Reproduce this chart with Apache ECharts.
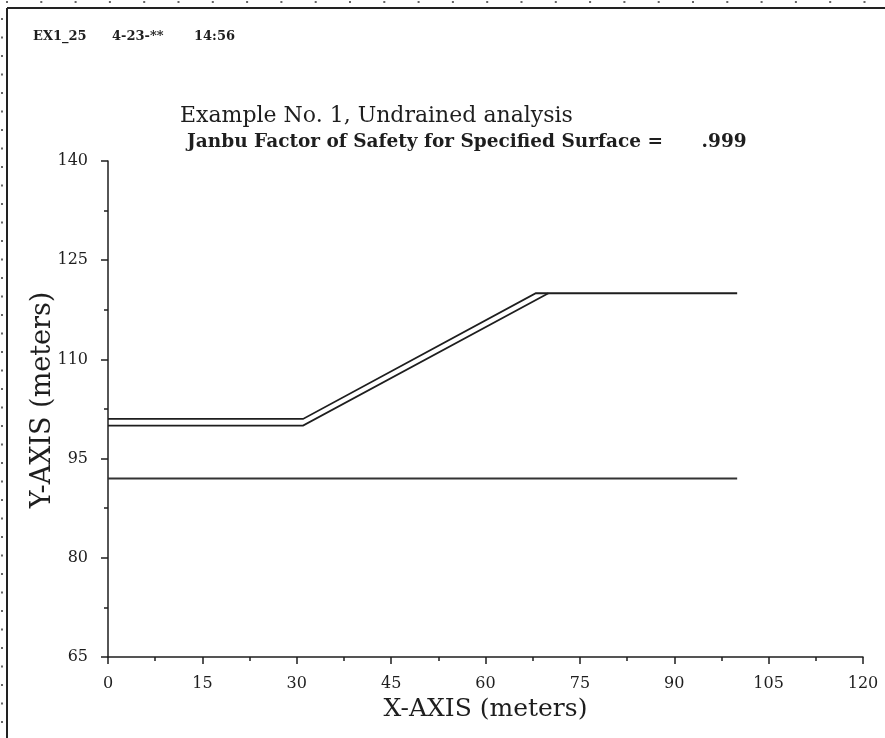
<!DOCTYPE html>
<html>
<head>
<meta charset="utf-8">
<script src="https://cdn.jsdelivr.net/npm/echarts@6/dist/echarts.min.js"></script>
<style>
  html, body { margin: 0; padding: 0; background: #fff; }
  #chart { width: 885px; height: 738px; }
</style>
</head>
<body>
<div id="chart"></div>
<script>
// surfaces (x, y in meters)
const upperSurface = [[0, 101], [31, 101], [68, 120], [100, 120]]
const lowerSurface = [[0, 100], [31, 100], [70, 120]]
const baseLine = [[0, 92], [100, 92]]

const headerTexts = ['EX1_25', '4-23-**', '14:56']
const titleText = 'Example No. 1, Undrained analysis'
const subText = 'Janbu Factor of Safety for Specified Surface =      .999'

const serif = 'DejaVu Serif'
const ink = '#1e1e1e'

const chart = echarts.init(document.getElementById('chart'), null, { renderer: 'canvas' })

const lineSeries = (name, data, width, color) => ({
    name,
    type: 'line',
    data,
    showSymbol: false,
    symbol: 'none',
    silent: true,
    lineStyle: { width, color, join: 'miter' },
})

chart.setOption({
    backgroundColor: '#fff',
    animation: false,
    title: [
        {
            text: titleText,
            left: 175,
            top: 100,
            textStyle: { fontFamily: serif, fontSize: 22, fontWeight: 'normal', color: ink },
        },
        {
            text: subText,
            left: 182,
            top: 128,
            textStyle: { fontFamily: serif, fontSize: 18.5, fontWeight: 'bold', color: ink },
        },
    ],
    grid: { left: 108, right: 22, top: 161, bottom: 81, containLabel: false },
    xAxis: {
        type: 'value',
        min: 0,
        max: 120,
        interval: 15,
        name: 'X-AXIS (meters)',
        nameLocation: 'middle',
        nameGap: 40,
        nameMoveOverlap: false,
        nameTextStyle: { fontFamily: serif, fontSize: 25, color: ink },
        axisLine: { show: true, lineStyle: { color: ink, width: 1.5 } },
        axisTick: { show: true, inside: false, length: 7, lineStyle: { color: ink, width: 1.5 } },
        minorTick: { show: true, splitNumber: 2, length: 4, lineStyle: { color: ink, width: 1.5 } },
        axisLabel: { fontFamily: serif, fontSize: 16, color: ink, margin: 19 },
        splitLine: { show: false },
    },
    yAxis: {
        type: 'value',
        min: 65,
        max: 140,
        interval: 15,
        name: 'Y-AXIS (meters)',
        nameLocation: 'middle',
        nameGap: 52,
        nameMoveOverlap: false,
        nameRotate: 90,
        nameTextStyle: { fontFamily: serif, fontSize: 27, color: ink, padding: [0, 0, 0, 18] },
        axisLine: { show: true, lineStyle: { color: ink, width: 1.5 } },
        axisTick: { show: true, inside: false, length: 7, lineStyle: { color: ink, width: 1.5 } },
        minorTick: { show: true, splitNumber: 2, length: 4, lineStyle: { color: ink, width: 1.5 } },
        axisLabel: { fontFamily: serif, fontSize: 16, color: ink, margin: 20, padding: [0, 0, 6, 0] },
        splitLine: { show: false },
    },
    graphic: [
        // page frame edges
        { type: 'line', shape: { x1: 7, y1: 8, x2: 885, y2: 8 }, style: { stroke: '#222', lineWidth: 2 } },
        { type: 'line', shape: { x1: 7, y1: 8, x2: 7, y2: 738 }, style: { stroke: '#222', lineWidth: 2 } },
        { type: 'line', shape: { x1: 6, y1: 2, x2: 885, y2: 2 }, style: { stroke: '#666', lineWidth: 2, lineDash: [2, 32.3] } },
        { type: 'line', shape: { x1: 2, y1: 18, x2: 2, y2: 738 }, style: { stroke: '#666', lineWidth: 2, lineDash: [2, 16.5] } },
        { type: 'text', left: 33, top: 30, style: { text: headerTexts[0], font: 'bold 13px "DejaVu Serif"', fill: ink } },
        { type: 'text', left: 112, top: 30, style: { text: headerTexts[1], font: 'bold 13px "DejaVu Serif"', fill: ink } },
        { type: 'text', left: 194, top: 30, style: { text: headerTexts[2], font: 'bold 13px "DejaVu Serif"', fill: ink } },
    ],
    series: [
        lineSeries('upper', upperSurface, 1.8, ink),
        lineSeries('lower', lowerSurface, 1.8, ink),
        lineSeries('base', baseLine, 2, '#333'),
    ],
})
</script>
</body>
</html>
